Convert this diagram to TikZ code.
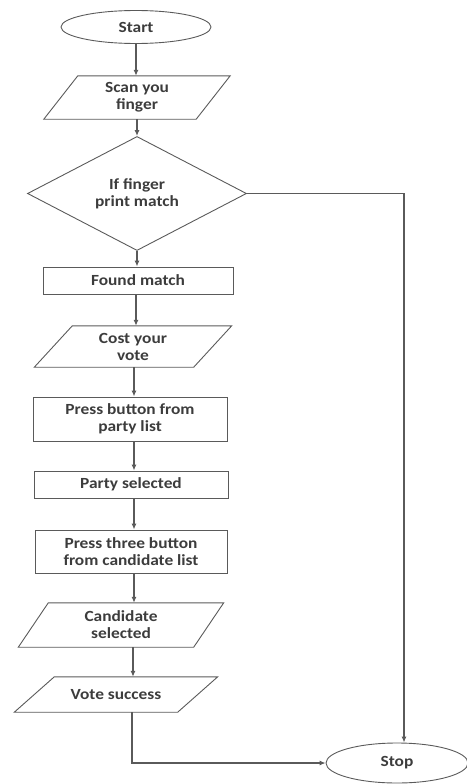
\documentclass[tikz,border=0pt]{standalone}
\usepackage{fontspec}
\setmainfont{Carlito}[FakeStretch=1.12]
\usetikzlibrary{shapes.geometric,arrows.meta}
\definecolor{linec}{HTML}{5A5A5A}
\definecolor{textc}{HTML}{3C3C3C}
\newcommand\drawpara[2]{\draw[shapeline] ([xshift=#2]#1.north west) -- ([xshift=#2]#1.north east) -- ([xshift=-#2]#1.south east) -- ([xshift=-#2]#1.south west) -- cycle;}
\tikzset{
  base/.style={inner sep=0pt, align=center, font=\fontsize{15.5}{17}\selectfont\bfseries, text=textc},
  shapeline/.style={draw=linec, line width=0.9pt},
  procbox/.style={base, rectangle, shapeline},
  parabox/.style={base, rectangle},
  term/.style={base, ellipse, shapeline},
  decision/.style={base, diamond, shapeline},
  flow/.style={draw=linec, line width=1.1pt, -{Latex[length=6pt,width=5pt]}},
}
\begin{document}
\begin{tikzpicture}[x=1pt,y=-1pt]
\useasboundingbox (0,0) rectangle (466,784);
\node[term, minimum width=150pt, minimum height=33pt] (start) at (136,27) {Start};
\node[parabox, minimum width=152pt, minimum height=43pt] (scan) at (137,97.5) {Scan you\\finger};
\drawpara{scan}{17pt}
\node[decision, minimum width=219pt, minimum height=83pt] (dec) at (137,193.5) {If finger\\print match};
\node[procbox, minimum width=190pt, minimum height=27pt] (found) at (138,280.5) {Found match};
\node[parabox, minimum width=159pt, minimum height=41pt] (cost) at (133,346.5) {Cost your\\vote};
\drawpara{cost}{19pt}
\node[procbox, minimum width=194pt, minimum height=44pt] (press) at (130,419) {Press button from\\party list};
\node[procbox, minimum width=194pt, minimum height=27pt] (party) at (131,484.5) {Party selected};
\node[procbox, minimum width=192pt, minimum height=43pt] (press3) at (131,551.5) {Press three button\\from candidate list};
\node[parabox, minimum width=175pt, minimum height=44pt] (cand) at (121,625) {Candidate\\selected};
\drawpara{cand}{15pt}
\node[parabox, minimum width=163pt, minimum height=35pt] (vote) at (116,694.5) {Vote success};
\drawpara{vote}{20pt}
\node[term, minimum width=142pt, minimum height=40pt] (stop) at (397,763) {Stop};
\coordinate (corner) at (404,193.5);
\coordinate (bend) at (132,763);
\draw[flow] (start.south) -- (start.south |- scan.north);
\draw[flow] (scan.south) -- (scan.south |- dec.north);
\draw[flow] (dec.south) -- (dec.south |- found.north);
\draw[flow] (found.south -| 136,0) -- (136,0 |- cost.north);
\draw[flow] (134,0 |- cost.south) -- (134,0 |- press.north);
\draw[flow] (134,0 |- press.south) -- (134,0 |- party.north);
\draw[flow] (134,0 |- party.south) -- (134,0 |- press3.north);
\draw[flow] (134,0 |- press3.south) -- (134,0 |- cand.north);
\draw[flow] (133,0 |- cand.south) -- (133,0 |- vote.north);
\draw[flow] (vote.south -| bend) -- (bend) -- (stop.west);
\draw[flow] (dec.east) -- (corner) -- (corner |- stop.north);
\end{tikzpicture}
\end{document}
